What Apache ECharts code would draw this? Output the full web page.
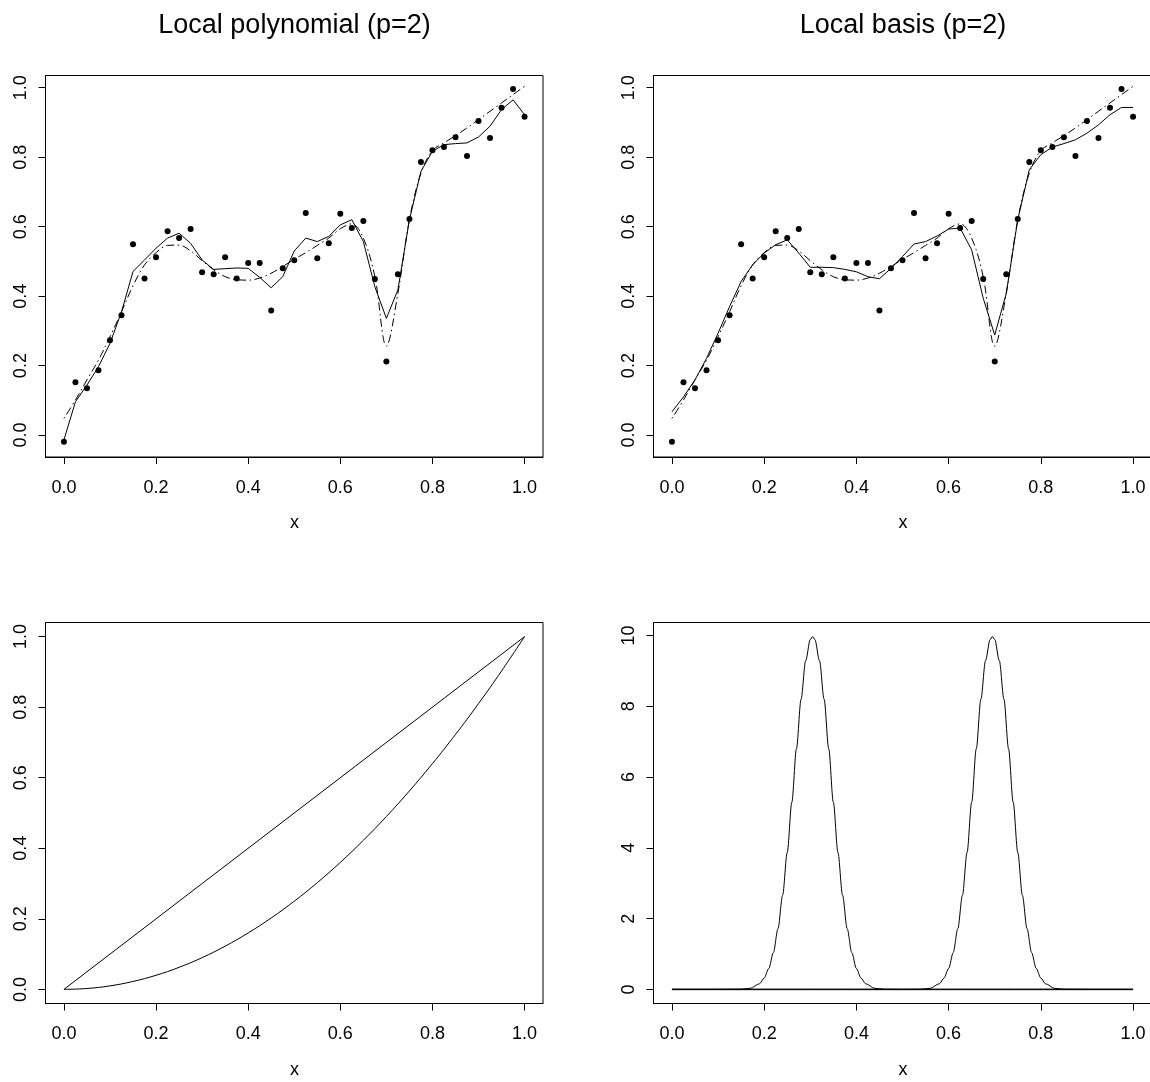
<!DOCTYPE html>
<html>
<head>
<meta charset="utf-8">
<title>Local polynomial vs local basis</title>
<script src="https://cdn.jsdelivr.net/npm/echarts@6/dist/echarts.min.js"></script>
<style>
  html, body { margin: 0; padding: 0; background: #fff; }
  #chart { width: 1150px; height: 1082px; }
</style>
</head>
<body>
<div id="chart"></div>
<script>
// Design points and noisy observations
const xObs = [0, 0.025, 0.05, 0.075, 0.1, 0.125, 0.15, 0.175, 0.2, 0.225, 0.25, 0.275, 0.3, 0.325, 0.35, 0.375, 0.4, 0.425, 0.45, 0.475, 0.5,
              0.525, 0.55, 0.575, 0.6, 0.625, 0.65, 0.675, 0.7, 0.725, 0.75, 0.775, 0.8, 0.825, 0.85, 0.875, 0.9, 0.925, 0.95, 0.975, 1];
const yObs = [-0.019, 0.152, 0.135, 0.187, 0.273, 0.345, 0.549, 0.451, 0.512, 0.587, 0.567, 0.593, 0.469, 0.463, 0.512, 0.451, 0.495, 0.495, 0.359, 0.480, 0.503,
              0.639, 0.509, 0.552, 0.637, 0.596, 0.616, 0.449, 0.212, 0.463, 0.622, 0.786, 0.820, 0.829, 0.857, 0.803, 0.904, 0.855, 0.942, 0.996, 0.916];

// True regression function at the design points (dash-dot)
const trueCurve = [0.048, 0.101, 0.159, 0.216, 0.283, 0.355, 0.430, 0.490, 0.525, 0.546, 0.547, 0.530, 0.502, 0.476, 0.456, 0.447, 0.446, 0.452, 0.466, 0.485, 0.506,
                   0.525, 0.546, 0.567, 0.594, 0.608, 0.567, 0.456, 0.256, 0.408, 0.620, 0.754, 0.819, 0.841, 0.862, 0.884, 0.908, 0.932, 0.956, 0.980, 1.004];

// Local quadratic polynomial fit
const fitLocalPoly = [-0.014, 0.096, 0.144, 0.197, 0.264, 0.355, 0.471, 0.504, 0.538, 0.567, 0.581, 0.552, 0.504, 0.477, 0.479, 0.481, 0.480, 0.454, 0.424, 0.456, 0.530,
                      0.567, 0.557, 0.572, 0.605, 0.620, 0.557, 0.427, 0.336, 0.418, 0.620, 0.759, 0.817, 0.836, 0.839, 0.841, 0.858, 0.889, 0.937, 0.965, 0.922];

// Local basis fit
const fitLocalBasis = [0.067, 0.110, 0.159, 0.221, 0.293, 0.370, 0.442, 0.490, 0.524, 0.548, 0.562, 0.524, 0.483, 0.483, 0.482, 0.477, 0.470, 0.456, 0.450, 0.480, 0.514,
                       0.550, 0.557, 0.573, 0.593, 0.596, 0.533, 0.394, 0.288, 0.408, 0.620, 0.764, 0.807, 0.829, 0.839, 0.850, 0.869, 0.893, 0.922, 0.943, 0.943];

// Polynomial basis functions: linear and quadratic
const linX = [0, 1];
const linY = [0, 1];
const quadX = [0, 0.05, 0.1, 0.15, 0.2, 0.25, 0.3, 0.35, 0.4, 0.45, 0.5, 0.55, 0.6, 0.65, 0.7, 0.75, 0.8, 0.85, 0.9, 0.95, 1];
const quadY = [0, 0.0025, 0.01, 0.0225, 0.04, 0.0625, 0.09, 0.1225, 0.16, 0.2025, 0.25, 0.3025, 0.36, 0.4225, 0.49, 0.5625, 0.64, 0.7225, 0.81, 0.9025, 1];

// Local basis bumps
const bumpAX = [0, 0.1, 0.15, 0.17, 0.19, 0.2, 0.21, 0.22, 0.23, 0.24, 0.25, 0.26, 0.27, 0.28, 0.29, 0.3, 0.305,
                0.31, 0.32, 0.33, 0.34, 0.35, 0.36, 0.37, 0.38, 0.39, 0.4, 0.41, 0.42, 0.44, 0.46, 0.5, 1];
const bumpAY = [0, 0, 0.005, 0.03, 0.16, 0.32, 0.59, 1.04, 1.72, 2.66, 3.87, 5.29, 6.80, 8.20, 9.29, 9.89, 9.97,
                9.89, 9.29, 8.20, 6.80, 5.29, 3.87, 2.66, 1.72, 1.04, 0.59, 0.32, 0.16, 0.03, 0.005, 0, 0];
const bumpBX = [0, 0.5, 0.54, 0.56, 0.58, 0.59, 0.6, 0.61, 0.62, 0.63, 0.64, 0.65, 0.66, 0.67, 0.68, 0.69, 0.695,
                0.7, 0.71, 0.72, 0.73, 0.74, 0.75, 0.76, 0.77, 0.78, 0.79, 0.8, 0.81, 0.83, 0.85, 0.9, 1];
const bumpBY = [0, 0, 0.005, 0.03, 0.16, 0.32, 0.59, 1.04, 1.72, 2.66, 3.87, 5.29, 6.80, 8.20, 9.29, 9.89, 9.97,
                9.89, 9.29, 8.20, 6.80, 5.29, 3.87, 2.66, 1.72, 1.04, 0.59, 0.32, 0.16, 0.03, 0.005, 0, 0];
const zeroX = [0, 1];
const zeroY = [0, 0];

// Tick labels
const unitTicks = [0, 0.2, 0.4, 0.6, 0.8, 1.0];
const bumpTicks = [0, 2, 4, 6, 8, 10];
const titles = ['Local polynomial (p=2)', 'Local basis (p=2)'];
const xName = 'x';

const FONT = '"Liberation Sans", Arial, Helvetica, sans-serif';
const zip = (xs, ys) => xs.map((x, i) => [x, ys[i]]);

const grids = [
  { left: 45.5, top: 75.5, width: 497.5, height: 381.5 },
  { left: 653.5, top: 75.5, width: 498, height: 381.5 },
  { left: 45.5, top: 622.5, width: 497.5, height: 381 },
  { left: 653.5, top: 622.5, width: 498, height: 381 }
].map(g => Object.assign(g, {
  show: true, borderColor: '#000', borderWidth: 1, backgroundColor: 'transparent',
  containLabel: false, outerBoundsMode: 'none'
}));

function xAxis(gi) {
  return {
    type: 'value', gridIndex: gi, min: -0.04, max: 1.04,
    splitLine: { show: false },
    axisLine: { show: true, onZero: false, lineStyle: { color: '#000', width: 1 } },
    axisTick: { show: true, length: 7, inside: false, customValues: unitTicks, lineStyle: { color: '#000', width: 1 } },
    axisLabel: { show: true, customValues: unitTicks, margin: 22, fontSize: 18, fontFamily: FONT, color: '#000',
                 formatter: v => v.toFixed(1) }
  };
}
function yAxis(gi, min, max, ticks, digits) {
  return {
    type: 'value', gridIndex: gi, min: min, max: max,
    splitLine: { show: false },
    axisLine: { show: true, onZero: false, lineStyle: { color: '#000', width: 1 } },
    axisTick: { show: true, length: 7, inside: false, customValues: ticks, lineStyle: { color: '#000', width: 1 } },
    axisLabel: { show: true, customValues: ticks, rotate: 90, margin: 15.5, fontSize: 18, fontFamily: FONT, color: '#000',
                 formatter: v => v.toFixed(digits) }
  };
}

const lineBase = { type: 'line', showSymbol: false, symbol: 'none', animation: false, z: 3 };
const solid = { color: '#000', width: 1, type: 'solid' };
const dotDash = { color: '#000', width: 1, type: [1.5, 3.5, 8, 3.5] };

const series = [];
[0, 1].forEach(gi => {
  series.push({
    type: 'scatter', xAxisIndex: gi, yAxisIndex: gi, data: zip(xObs, yObs),
    symbol: 'circle', symbolSize: 6, itemStyle: { color: '#000', opacity: 1 }, animation: false, z: 4
  });
  series.push(Object.assign({}, lineBase, {
    xAxisIndex: gi, yAxisIndex: gi, data: zip(xObs, gi === 0 ? fitLocalPoly : fitLocalBasis), lineStyle: solid
  }));
  series.push(Object.assign({}, lineBase, {
    xAxisIndex: gi, yAxisIndex: gi, data: zip(xObs, trueCurve), smooth: 0.35, lineStyle: dotDash
  }));
});
series.push(Object.assign({}, lineBase, { xAxisIndex: 2, yAxisIndex: 2, data: zip(linX, linY), lineStyle: solid }));
series.push(Object.assign({}, lineBase, { xAxisIndex: 2, yAxisIndex: 2, data: zip(quadX, quadY), smooth: 0.4, lineStyle: solid }));
series.push(Object.assign({}, lineBase, { xAxisIndex: 3, yAxisIndex: 3, data: zip(zeroX, zeroY),
  lineStyle: { color: '#555', width: 1.8 }, z: 2 }));
series.push(Object.assign({}, lineBase, { xAxisIndex: 3, yAxisIndex: 3, data: zip(bumpAX, bumpAY), smooth: 0.3,
  smoothMonotone: 'x', lineStyle: solid }));
series.push(Object.assign({}, lineBase, { xAxisIndex: 3, yAxisIndex: 3, data: zip(bumpBX, bumpBY), smooth: 0.3,
  smoothMonotone: 'x', lineStyle: solid }));

function label(text, x, y, size) {
  return {
    type: 'text', x: x, y: y, silent: true,
    style: { text: text, fill: '#000', font: size + 'px ' + FONT, textAlign: 'center', textVerticalAlign: 'middle' }
  };
}

const option = {
  backgroundColor: '#fff',
  animation: false,
  grid: grids,
  xAxis: [xAxis(0), xAxis(1), xAxis(2), xAxis(3)],
  yAxis: [
    yAxis(0, -0.063, 1.035, unitTicks, 1),
    yAxis(1, -0.063, 1.035, unitTicks, 1),
    yAxis(2, -0.04, 1.04, unitTicks, 1),
    yAxis(3, -0.399, 10.37, bumpTicks, 0)
  ],
  series: series,
  graphic: [
    label(titles[0], 294.5, 26, 27),
    label(titles[1], 903, 26, 27),
    label(xName, 294.5, 523.5, 18),
    label(xName, 903, 523.5, 18),
    label(xName, 294.5, 1070, 18),
    label(xName, 903, 1070, 18)
  ]
};

const chart = echarts.init(document.getElementById('chart'), null, { renderer: 'canvas' });
chart.setOption(option);
</script>
</body>
</html>
